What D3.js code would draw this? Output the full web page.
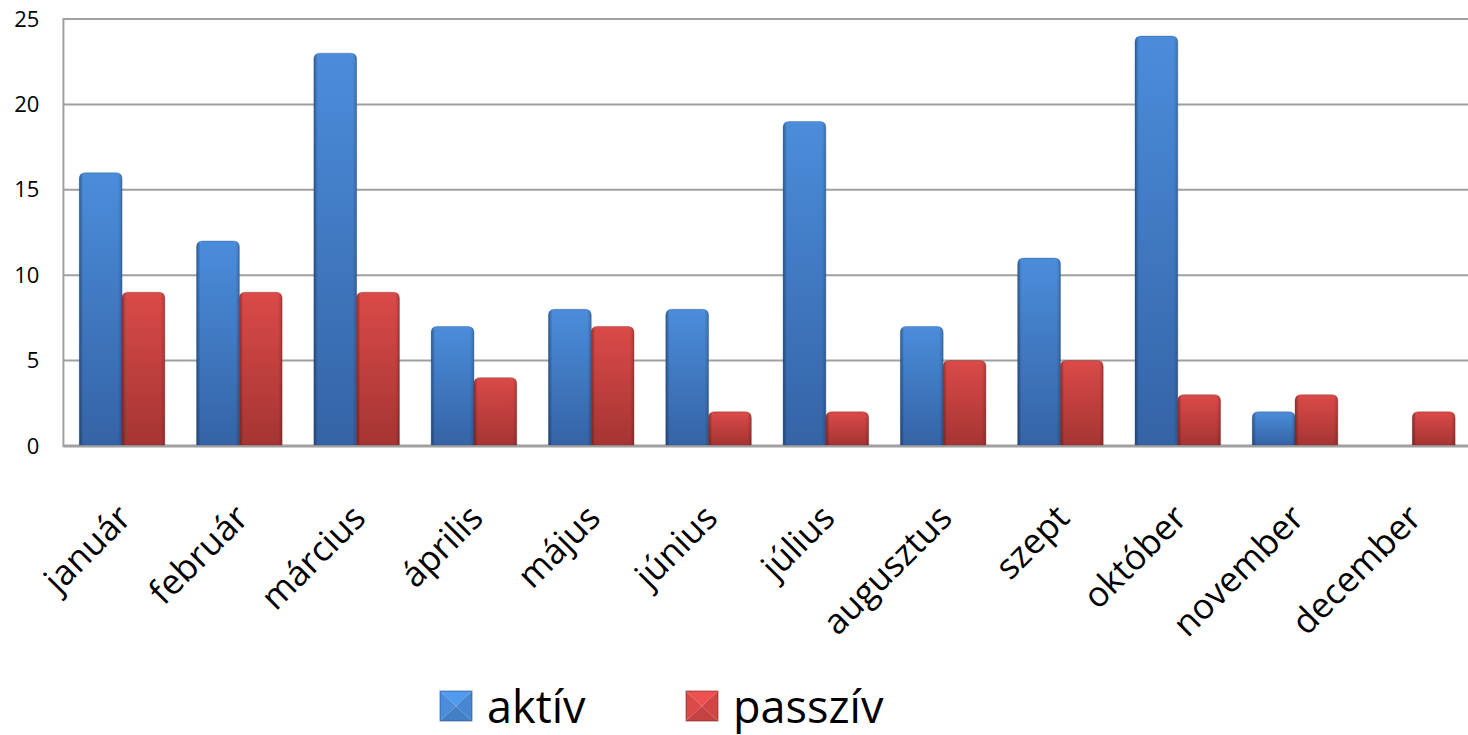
<html>
<head>
<script src="https://d3js.org/d3.v7.min.js"></script>
<style>
  body { margin: 0; background: #fff; }
  text { font-family: "Open Sans", sans-serif; fill: #000; }
</style>
</head>
<body>
<div id="chart"></div>
<script>
const months = ["január", "február", "március", "április", "május", "június",
  "július", "augusztus", "szept", "október", "november", "december"];
const series = ["aktív", "passzív"];
const aktiv = [16, 12, 23, 7, 8, 8, 19, 7, 11, 24, 2, 0];
const passziv = [9, 9, 9, 4, 7, 2, 2, 5, 5, 3, 3, 2];
const yTicks = [0, 5, 10, 15, 20, 25];

const width = 1468, height = 735;
const plot = { left: 63.4, right: 1471, top: 19, bottom: 446 };

const svg = d3.select("#chart").append("svg")
  .attr("width", width).attr("height", height);

const defs = svg.append("defs");
// colour ramps for the two series (top -> bottom)
const palette = {
  "aktív": { top: "#4b8ddb", bottom: "#3563a6", edge: "#234b80" },
  "passzív": { top: "#da4a48", bottom: "#a53533", edge: "#782222" }
};
series.forEach((s, i) => {
  const g = defs.append("linearGradient").attr("id", "fill" + i)
    .attr("x1", 0).attr("y1", 0).attr("x2", 0).attr("y2", 1);
  g.append("stop").attr("offset", "0%").attr("stop-color", palette[s].top);
  g.append("stop").attr("offset", "100%").attr("stop-color", palette[s].bottom);
});
// darker side edges
const side = defs.append("linearGradient").attr("id", "side")
  .attr("x1", 0).attr("y1", 0).attr("x2", 1).attr("y2", 0);
side.append("stop").attr("offset", "0%").attr("stop-color", "#000").attr("stop-opacity", 0.35);
side.append("stop").attr("offset", "9%").attr("stop-color", "#000").attr("stop-opacity", 0.0);
side.append("stop").attr("offset", "91%").attr("stop-color", "#000").attr("stop-opacity", 0.0);
side.append("stop").attr("offset", "100%").attr("stop-color", "#000").attr("stop-opacity", 0.2);

const x0 = d3.scaleBand().domain(months).range([plot.left, plot.right]).padding(0);
const x1 = d3.scaleBand().domain(series).range([0, x0.bandwidth()])
  .paddingInner(0).paddingOuter(0.372);
const y = d3.scaleLinear().domain([0, 25]).range([plot.bottom, plot.top]);

// gridlines
svg.append("g").selectAll("line").data(yTicks).join("line")
  .attr("x1", plot.left).attr("x2", width)
  .attr("y1", d => y(d)).attr("y2", d => y(d))
  .attr("stroke", "#a0a0a0").attr("stroke-width", d => d === 0 ? 3 : 2);
svg.append("line")
  .attr("x1", plot.left).attr("x2", plot.left)
  .attr("y1", plot.top - 1).attr("y2", plot.bottom + 1)
  .attr("stroke", "#a0a0a0").attr("stroke-width", 2);

// y axis labels
const yAxis = svg.append("g")
  .attr("transform", `translate(${plot.left},0)`)
  .call(d3.axisLeft(y).tickValues(yTicks).tickSize(0).tickPadding(24));
yAxis.select(".domain").remove();
yAxis.selectAll("text").style("font-size", "22px").style("font-family", "Open Sans");

// bars
const rows = months.map((m, i) => ({ month: m, values: [aktiv[i], passziv[i]] }));

function barPath(x, w, top, bottom) {
  const r = Math.min(6, (bottom - top) / 2, w / 2);
  return `M${x},${bottom} V${top + r} Q${x},${top} ${x + r},${top} H${x + w - r} Q${x + w},${top} ${x + w},${top + r} V${bottom} Z`;
}

const groups = svg.append("g").selectAll("g").data(rows).join("g")
  .attr("transform", d => `translate(${x0(d.month)},0)`);

const bars = groups.selectAll("g").data(d => d.values.map((v, i) => ({ s: series[i], i, v })).filter(d => d.v > 0))
  .join("g");
bars.append("path")
  .attr("d", d => barPath(x1(d.s), x1.bandwidth(), y(d.v), y(0) - 1))
  .attr("fill", d => `url(#fill${d.i})`);
bars.append("path")
  .attr("d", d => barPath(x1(d.s), x1.bandwidth(), y(d.v), y(0) - 1))
  .attr("fill", "url(#side)");
bars.append("path")
  .attr("d", d => barPath(x1(d.s), x1.bandwidth(), y(d.v), y(0) - 1))
  .attr("fill", "none")
  .attr("stroke", d => palette[d.s].edge).attr("stroke-opacity", 0.35).attr("stroke-width", 1);

// x labels
svg.append("g").selectAll("text").data(months).join("text")
  .attr("transform", d => `translate(${x0(d) + x0.bandwidth() / 2 + 11},520) rotate(-45)`)
  .attr("text-anchor", "end")
  .style("font-size", "35px")
  .text(d => d);

// legend
const legendX = [440, 686];
const lg = svg.append("g").selectAll("g").data(series).join("g")
  .attr("transform", (d, i) => `translate(${legendX[i]},691)`);
const mw = 32, mh = 30;
const facets = [
  { pts: [[0, 0], [mw, 0], [mw / 2, mh / 2]], k: 0.25 },
  { pts: [[0, 0], [0, mh], [mw / 2, mh / 2]], k: 0.0 },
  { pts: [[mw, 0], [mw, mh], [mw / 2, mh / 2]], k: -0.15 },
  { pts: [[0, mh], [mw, mh], [mw / 2, mh / 2]], k: -0.3 }
];
lg.each(function (s) {
  const g = d3.select(this);
  facets.forEach(f => {
    const base = d3.color(palette[s].top);
    const c = f.k >= 0 ? base.brighter(f.k) : base.darker(-f.k);
    g.append("polygon").attr("points", f.pts.map(p => p.join(",")).join(" ")).attr("fill", c);
  });
  g.append("rect").attr("width", mw).attr("height", mh)
    .attr("fill", "none").attr("stroke", palette[s].edge).attr("stroke-opacity", 0.6);
  g.append("text").attr("x", 47).attr("y", 32).style("font-size", "45px").text(s);
});
</script>
</body>
</html>
